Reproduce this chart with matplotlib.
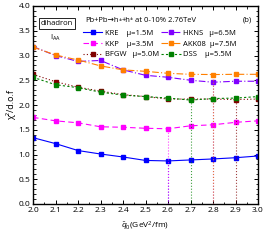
"""
dihadron I_AA の χ²/d.o.f を q̂0 に対して描く（FF ごと）
"""
import numpy as np
import matplotlib.pyplot as plt
from matplotlib.ticker import MultipleLocator

plt.rcParams['font.family'] = ['Open Sans', 'DejaVu Sans']
plt.rcParams['mathtext.fontset'] = 'custom'
plt.rcParams['mathtext.rm'] = 'Open Sans'
plt.rcParams['mathtext.it'] = 'Open Sans:italic'
plt.rcParams['mathtext.sf'] = 'Open Sans'

q0 = [2.0, 2.1, 2.2, 2.3, 2.4, 2.5, 2.6, 2.7, 2.8, 2.9, 3.0]

kre = [1.34, 1.22, 1.08, 1.01, 0.95, 0.88, 0.87, 0.89, 0.91, 0.935, 0.97]
kkp = [1.75, 1.68, 1.64, 1.56, 1.55, 1.53, 1.52, 1.58, 1.60, 1.65, 1.68]
bfgw = [2.62, 2.47, 2.36, 2.28, 2.21, 2.17, 2.12, 2.12, 2.12, 2.11, 2.12]
hkns = [3.18, 3.00, 2.88, 2.90, 2.71, 2.60, 2.56, 2.50, 2.46, 2.48, 2.48]
akk08 = [3.17, 3.01, 2.91, 2.79, 2.71, 2.68, 2.64, 2.62, 2.615, 2.62, 2.62]
dss = [2.56, 2.41, 2.35, 2.26, 2.20, 2.17, 2.14, 2.10, 2.13, 2.14, 2.17]

names = ["KRE", "KKP", "BFGW", "HKNS", "AKK08", "DSS"]
mus = ["μ=1.5M", "μ=3.5M", "μ=5.0M", "μ=6.5M", "μ=7.5M", "μ=5.5M"]
colors = ["#0000ff", "#ff00ff", "#800000", "#8000ff", "#ff8000", "#008000"]
styles = ["-", (0, (5, 3)), (0, (1, 2)), (0, (6, 2, 1, 2)), (0, (6, 2, 1, 2)), (0, (2, 2))]
series = [kre, kkp, bfgw, hkns, akk08, dss]

fig = plt.figure(figsize=(2.66, 2.40), dpi=100)
ax = fig.add_axes([33 / 266, 36 / 240, 225 / 266, 198 / 240])

handles = []
for name, mu, c, ls, y in zip(names, mus, colors, styles, series):
    h, = ax.plot(q0, y, color=c, ls=ls, lw=0.8, marker="s", ms=3.2,
                 label=f"{name}" + " " * (7 - len(name)) + mu)
    handles.append(h)
    # 最小値の位置に縦線
    i = int(np.argmin(y))
    ax.vlines(q0[i], 0, y[i], color=c, ls=":", lw=0.8, alpha=0.75)

ax.set_xlim(2.0, 3.0)
ax.set_ylim(0.0, 4.0)
ax.xaxis.set_major_locator(MultipleLocator(0.1))
ax.xaxis.set_minor_locator(MultipleLocator(0.05))
ax.yaxis.set_major_locator(MultipleLocator(0.5))
ax.yaxis.set_minor_locator(MultipleLocator(0.1))
ax.tick_params(which="both", direction="in", top=True, right=True, labelsize=6, pad=2)
ax.tick_params(which="major", length=3, width=0.7)
ax.tick_params(which="minor", length=1.8, width=0.6)
for s in ax.spines.values():
    s.set_linewidth(1.0)

ax.set_xlabel(r"$\hat{q}_0$(GeV$^2$/fm)", fontsize=6, labelpad=4)
ax.set_ylabel("χ²/d.o.f", fontsize=6.5, labelpad=2)

ax.text(0.035, 0.905, "dihadron", transform=ax.transAxes, fontsize=5.5,
        bbox=dict(boxstyle="square,pad=0.3", fc="white", ec="black", lw=0.6))
ax.text(0.075, 0.83, r"I$_{\mathrm{AA}}$", transform=ax.transAxes, fontsize=5.5)

# タイトル：h± の上付きを別テキストでつなぐ
t1 = ax.text(0.23, 0.92, "Pb+Pb→h", transform=ax.transAxes, fontsize=5.5,
             va="baseline")
t2 = ax.annotate("±", xy=(1, 0), xycoords=t1, xytext=(0, 2.2),
                 textcoords="offset points", fontsize=3.8, va="baseline")
t3 = ax.annotate("+h", xy=(1, 0), xycoords=(t2, t1), fontsize=5.5, va="bottom")
t4 = ax.annotate("±", xy=(1, 0), xycoords=t3, xytext=(0, 2.2),
                 textcoords="offset points", fontsize=3.8, va="bottom")
ax.annotate(" at 0-10% 2.76TeV", xy=(1, 0), xycoords=(t4, t1), fontsize=5.5,
            va="bottom")
ax.text(0.975, 0.92, "(b)", transform=ax.transAxes, fontsize=5.5, ha="right")

ax.legend(handles=handles, ncol=2, loc="upper left", bbox_to_anchor=(0.2, 0.905),
          frameon=False, fontsize=5.5, handlelength=2.6, handletextpad=0.3,
          columnspacing=0.3, labelspacing=0.45, borderpad=0.1)

fig.savefig("out.png", dpi=100)
